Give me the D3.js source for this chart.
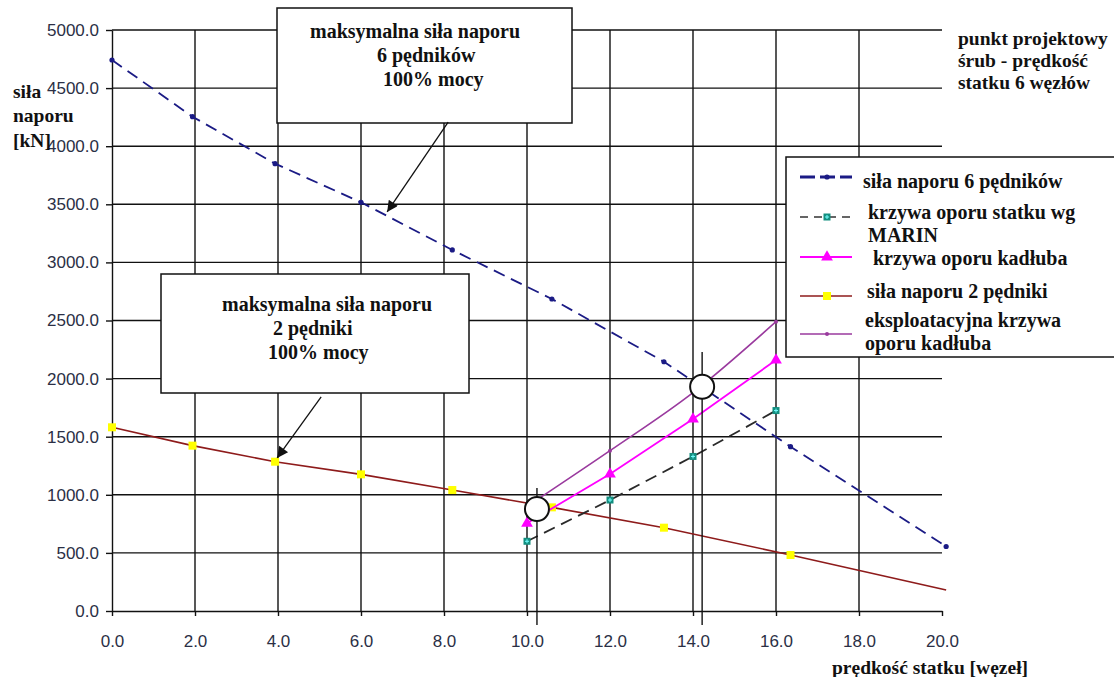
<!DOCTYPE html>
<html>
<head>
<meta charset="utf-8">
<script src="https://cdn.jsdelivr.net/npm/d3@7"></script>
<style>
body { margin: 0; background: #fff; }
.serif { font-family: "Liberation Serif", "Times New Roman", serif; font-weight: bold; font-size: 19.5px; fill: #111; }
.big { font-size: 20px; }
</style>
</head>
<body>
<svg id="chart" width="1114" height="677"></svg>
<script>
// thrust curves, sampled at the same speeds [węzeł]
const speedThrust = [0, 1.94, 3.93, 6, 8.2, 10.6, 13.3, 16.35, 20.1];
const thrust6 = [4742, 4254, 3850, 3517, 3107, 2685, 2145, 1414, 555];
const thrust2 = [1581, 1423, 1285, 1176, 1041, 892, 717, 482, 180];

// resistance curves
const speedResist = [10, 12, 14, 16];
const marin = [600, 955, 1330, 1725];
const hull = [755, 1179, 1652, 2160];
const oper = [900, 1380, 1880, 2490];

// working points (circle + vertical marker line)
const pointSpeed = [10.24, 14.22];
const pointForce = [878, 1930];
const pointLineTop = [1058, 2229];

const xTicks = [0, 2, 4, 6, 8, 10, 12, 14, 16, 18, 20];
const yTicks = [0, 500, 1000, 1500, 2000, 2500, 3000, 3500, 4000, 4500, 5000];

const svg = d3.select('#chart');
const x = d3.scaleLinear().domain([0, 20]).range([112, 942]);
const y = d3.scaleLinear().domain([0, 5000]).range([611, 30]);

// grid
svg.append('g').selectAll('line')
   .data(yTicks.slice(1))
   .join('line')
   .attr('x1', x(0)).attr('x2', x(20))
   .attr('y1', d => y(d)).attr('y2', d => y(d))
   .attr('stroke', '#111').attr('stroke-width', 1.4);

svg.append('g').selectAll('line')
   .data(xTicks.filter(d => d > 0 && d < 20))
   .join('line')
   .attr('x1', d => x(d)).attr('x2', d => x(d))
   .attr('y1', y(0)).attr('y2', y(5000))
   .attr('stroke', '#111').attr('stroke-width', 1.4);

// axes
const fmt = d3.format('.1f');
const gx = svg.append('g')
   .attr('transform', `translate(0,${y(0)})`)
   .call(d3.axisBottom(x).tickValues(xTicks).tickFormat(fmt).tickSize(5).tickSizeOuter(0).tickPadding(19));
const gy = svg.append('g')
   .attr('transform', `translate(${x(0)},0)`)
   .call(d3.axisLeft(y).tickValues(yTicks).tickFormat(fmt).tickSize(6).tickSizeOuter(0).tickPadding(7));
[gx, gy].forEach(g => {
    g.attr('font-family', '"Liberation Sans", Arial, sans-serif').attr('font-size', 17);
    g.selectAll('path, line').attr('stroke', '#111').attr('stroke-width', 1.4);
    g.selectAll('text').attr('fill', '#2b2f45');
});

const pts = (xs, ys) => xs.map((v, i) => [v, ys[i]]);
const line = d3.line().x(d => x(d[0])).y(d => y(d[1]));

const navy = '#1b1b85';
const darkRed = '#8e1b1b';
const magenta = '#ff00ff';
const purple = '#9a3a9e';
const teal = '#138f80';

// siła naporu 6 pędników
svg.append('path')
   .datum(pts(speedThrust, thrust6))
   .attr('d', line)
   .attr('fill', 'none').attr('stroke', navy)
   .attr('stroke-width', 1.8).attr('stroke-dasharray', '12,7');
svg.append('g').selectAll('circle')
   .data(pts(speedThrust, thrust6))
   .join('circle')
   .attr('cx', d => x(d[0])).attr('cy', d => y(d[1]))
   .attr('r', 2.6).attr('fill', navy);

// siła naporu 2 pędniki
svg.append('path')
   .datum(pts(speedThrust, thrust2))
   .attr('d', line)
   .attr('fill', 'none').attr('stroke', darkRed).attr('stroke-width', 1.6);
svg.append('g').selectAll('rect')
   .data(pts(speedThrust, thrust2).slice(0, -1))
   .join('rect')
   .attr('x', d => x(d[0]) - 4).attr('y', d => y(d[1]) - 4)
   .attr('width', 8).attr('height', 8).attr('fill', '#ffff00');

// krzywa oporu statku wg MARIN
svg.append('path')
   .datum(pts(speedResist, marin))
   .attr('d', line)
   .attr('fill', 'none').attr('stroke', '#2a2a2a')
   .attr('stroke-width', 1.8).attr('stroke-dasharray', '12,7');
const marinMark = svg.append('g').selectAll('g')
   .data(pts(speedResist, marin))
   .join('g')
   .attr('transform', d => `translate(${x(d[0])},${y(d[1])})`);
marinMark.append('rect').attr('x', -3.5).attr('y', -3.5).attr('width', 7).attr('height', 7).attr('fill', teal);
marinMark.append('path').attr('d', 'M-2,0H2M0,-2V2').attr('stroke', '#7ff').attr('stroke-width', 1);

// krzywa oporu kadłuba
svg.append('path')
   .datum(pts(speedResist, hull))
   .attr('d', line)
   .attr('fill', 'none').attr('stroke', magenta).attr('stroke-width', 1.8);
svg.append('g').selectAll('path')
   .data(pts(speedResist, hull))
   .join('path')
   .attr('transform', d => `translate(${x(d[0])},${y(d[1])})`)
   .attr('d', d3.symbol(d3.symbolTriangle, 60))
   .attr('fill', magenta);

// eksploatacyjna krzywa oporu kadłuba
svg.append('path')
   .datum(pts(speedResist, oper))
   .attr('d', line.curve(d3.curveMonotoneX))
   .attr('fill', 'none').attr('stroke', purple).attr('stroke-width', 1.6);
line.curve(d3.curveLinear);
svg.append('g').selectAll('circle')
   .data(pts(speedResist, oper))
   .join('circle')
   .attr('cx', d => x(d[0])).attr('cy', d => y(d[1]))
   .attr('r', 2).attr('fill', purple);

// working points
svg.append('g').selectAll('line')
   .data(pointSpeed.map((s, i) => [s, pointLineTop[i]]))
   .join('line')
   .attr('x1', d => x(d[0])).attr('x2', d => x(d[0]))
   .attr('y1', d => y(d[1])).attr('y2', y(0) + 14)
   .attr('stroke', '#111').attr('stroke-width', 1.4);
svg.append('g').selectAll('circle')
   .data(pts(pointSpeed, pointForce))
   .join('circle')
   .attr('cx', d => x(d[0])).attr('cy', d => y(d[1]))
   .attr('r', 12).attr('fill', '#fff')
   .attr('stroke', '#111').attr('stroke-width', 2);

// annotation boxes with arrows
svg.append('defs').append('marker')
   .attr('id', 'head').attr('viewBox', '0 0 10 10')
   .attr('refX', 10).attr('refY', 5)
   .attr('markerWidth', 14).attr('markerHeight', 11)
   .attr('markerUnits', 'userSpaceOnUse')
   .attr('orient', 'auto')
   .append('path').attr('d', 'M0,0L10,5L0,10Z').attr('fill', '#111');

function noteBox(bx, by, bw, bh, lines) {
    svg.append('rect')
       .attr('x', bx).attr('y', by).attr('width', bw).attr('height', bh)
       .attr('fill', '#fff').attr('stroke', '#111').attr('stroke-width', 1.5);
    lines.forEach(l => {
        svg.append('text').attr('class', 'serif big')
           .attr('x', l[0]).attr('y', l[1]).text(l[2]);
    });
}
function arrow(from, to) {
    svg.append('line')
       .attr('x1', x(from[0])).attr('y1', y(from[1]))
       .attr('x2', x(to[0])).attr('y2', y(to[1]))
       .attr('stroke', '#111').attr('stroke-width', 1.3)
       .attr('marker-end', 'url(#head)');
}

noteBox(277, 8, 295, 115, [
    [310, 38, 'maksymalna siła naporu'],
    [377, 62, '6 pędników'],
    [383, 86, '100% mocy']
]);
arrow([8.1, 4208], [6.63, 3434]);

noteBox(161, 274, 308, 119, [
    [222, 311, 'maksymalna siła naporu'],
    [273, 335, '2 pędniki'],
    [268, 359, '100% mocy']
]);
arrow([5.04, 1842], [3.98, 1317]);

// axis titles and side note
[['siła', 13, 98], ['naporu', 13, 122], ['[kN]', 13, 147]].forEach(t =>
    svg.append('text').attr('class', 'serif').attr('x', t[1]).attr('y', t[2]).text(t[0]));
svg.append('text').attr('class', 'serif').attr('x', 832).attr('y', 674).text('prędkość statku [węzeł]');
[['punkt projektowy', 45], ['śrub - prędkość', 67], ['statku 6 węzłów', 89]].forEach(t =>
    svg.append('text').attr('class', 'serif').attr('x', 958).attr('y', t[1]).text(t[0]));

// legend
const lg = svg.append('g');
lg.append('rect').attr('x', 786).attr('y', 157).attr('width', 340).attr('height', 200)
  .attr('fill', '#fff').attr('stroke', '#111').attr('stroke-width', 1.5);

const legendRows = [
    { y: 177, stroke: navy, width: 3.2, dash: '15,5', mark: 'dot' },
    { y: 217, stroke: '#333', width: 1.6, dash: '8,6', mark: 'marin' },
    { y: 257, stroke: magenta, width: 1.8, dash: null, mark: 'tri' },
    { y: 296, stroke: darkRed, width: 1.6, dash: null, mark: 'sq' },
    { y: 334, stroke: purple, width: 1.6, dash: null, mark: 'pdot' }
];
legendRows.forEach(r => {
    lg.append('line').attr('x1', 800).attr('x2', 852).attr('y1', r.y).attr('y2', r.y)
      .attr('stroke', r.stroke).attr('stroke-width', r.width)
      .attr('stroke-dasharray', r.dash);
    const m = lg.append('g').attr('transform', `translate(827,${r.y})`);
    if (r.mark === 'dot') m.append('circle').attr('r', 2.6).attr('fill', navy);
    if (r.mark === 'pdot') m.append('circle').attr('r', 2).attr('fill', purple);
    if (r.mark === 'sq') m.append('rect').attr('x', -4).attr('y', -4).attr('width', 8).attr('height', 8).attr('fill', '#ffff00');
    if (r.mark === 'tri') m.append('path').attr('d', d3.symbol(d3.symbolTriangle, 60)).attr('fill', magenta);
    if (r.mark === 'marin') {
        m.append('rect').attr('x', -3.5).attr('y', -3.5).attr('width', 7).attr('height', 7).attr('fill', teal);
        m.append('path').attr('d', 'M-2,0H2M0,-2V2').attr('stroke', '#7ff').attr('stroke-width', 1);
    }
});
[['siła naporu 6 pędników', 863, 188],
 ['krzywa oporu statku wg', 868, 219],
 ['MARIN', 868, 242],
 ['krzywa oporu kadłuba', 873, 265],
 ['siła naporu 2 pędniki', 867, 298],
 ['eksploatacyjna krzywa', 865, 327],
 ['oporu kadłuba', 865, 350]].forEach(t =>
    lg.append('text').attr('class', 'serif big').attr('x', t[1]).attr('y', t[2]).text(t[0]));
</script>
</body>
</html>
